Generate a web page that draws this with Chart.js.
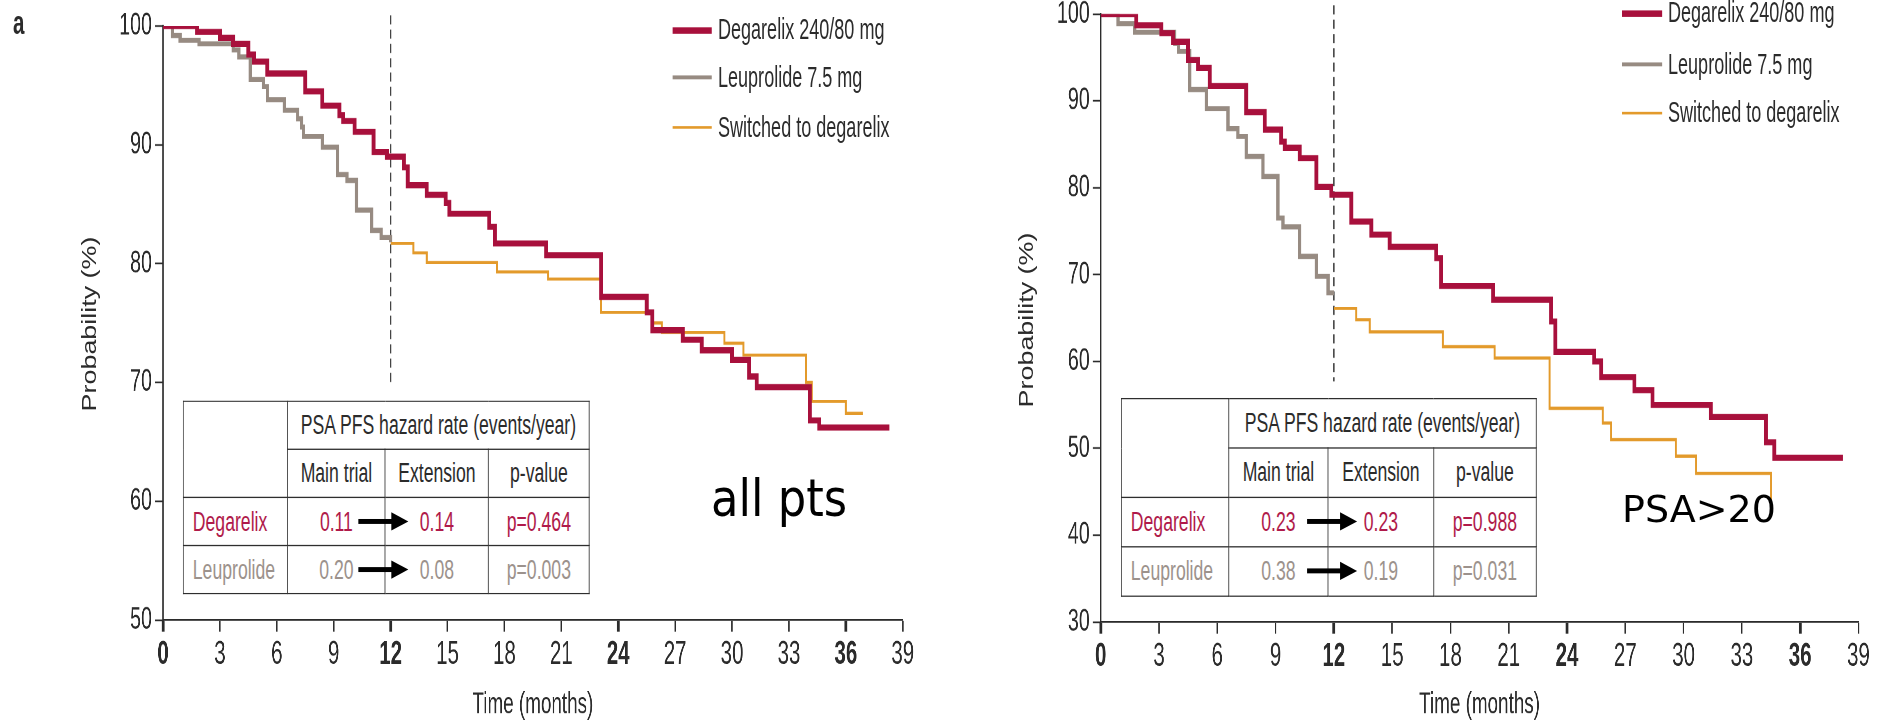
<!DOCTYPE html>
<html>
<head>
<meta charset="utf-8">
<title>PSA PFS - degarelix vs leuprolide</title>
<script src="https://cdn.jsdelivr.net/npm/chart.js@4.4.1/dist/chart.umd.min.js"></script>
<style>
  html, body { margin: 0; padding: 0; background: #fff; }
  body { width: 1880px; height: 723px; overflow: hidden; position: relative;
         font-family: 'Liberation Sans', Arial, sans-serif; color: #2b2b2b; }
  /* figure is drawn at normal proportions then squeezed/stretched like the scanned original */
  #stage { position: absolute; left: 0; top: 0; transform-origin: 0 0; }
  .panel { position: absolute; top: 0; }
  .panel canvas { position: absolute; left: 0; top: 0; }
  .legrow { position: absolute; height: 24px; line-height: 24px; font-size: 22px; white-space: nowrap; }
  .legrow .sw { position: absolute; left: 0; }
  .legrow .tx { position: absolute; top: 0; }
  .tbl { position: absolute; background: #fff; }
  .tbl table { border-collapse: collapse; table-layout: fixed; font-size: 21.5px; background: #fff; }
  .tbl td { border: 1.7px solid #2e2e2e; text-align: center; padding: 0; white-space: nowrap; }
  .tbl td.lab { text-align: left; }
  .tbl svg { position: absolute; overflow: visible; }
  .note { position: absolute; font-family: 'DejaVu Sans', sans-serif; line-height: 1; color: #000;
          white-space: nowrap; transform-origin: 0 0; }
  .ytitle { position: absolute; width: 200px; height: 26px; line-height: 26px; text-align: center;
            font-size: 21px; color: #2b2b2b; white-space: nowrap; transform: rotate(-90deg) scaleX(1.28); }
  #lblA { position: absolute; font-size: 25px; line-height: 1; font-weight: bold; }
</style>
</head>
<body>
<div id="stage">
  <div class="panel" id="pA"><canvas id="chartA"></canvas></div>
  <div class="panel" id="pB"><canvas id="chartB"></canvas></div>
  <div id="lblA">a</div>
</div>
<div class="ytitle" style="left:-11px; top:311px">Probability (%)</div>
<div class="ytitle" style="left:926px; top:307px">Probability (%)</div>
<div class="note" style="left:711px; top:473px; font-size:51px; transform:scaleX(0.88)">all pts</div>
<div class="note" style="left:1622px; top:490px; font-size:38px">PSA&gt;20</div>
<script>
"use strict";

// ---- data ----
var switchMonth = 12;
var boldMonths = [0, 12, 24, 36];
var seriesNames = ['Degarelix 240/80 mg', 'Leuprolide 7.5 mg', 'Switched to degarelix'];

// panel a: all patients
var degA_t = [0, 1.8, 3.0, 3.7, 4.5, 4.8, 5.5, 7.5, 8.4, 9.3, 9.5, 10.1, 11.1, 11.8, 12.7, 12.9, 13.9, 14.9, 15.1, 17.2, 17.5, 20.2, 23.1, 25.5, 25.8, 27.4, 28.4, 30.0, 30.9, 31.3, 34.1, 34.6, 38.3];
var degA_v = [100, 99.5, 99.0, 98.5, 97.6, 97.0, 96.0, 94.5, 93.3, 92.5, 92.0, 91.1, 89.4, 89.0, 88.1, 86.6, 85.8, 85.1, 84.2, 83.1, 81.7, 80.7, 77.2, 75.9, 74.4, 73.6, 72.7, 71.9, 70.5, 69.6, 66.8, 66.2, 66.2];
var leuA_t = [0, 0.5, 0.9, 1.9, 3.7, 4.0, 4.6, 5.3, 5.5, 6.4, 7.1, 7.3, 7.4, 8.4, 9.2, 9.7, 10.2, 11.0, 11.5, 12.0];
var leuA_v = [100, 99.2, 98.8, 98.5, 98.0, 97.4, 95.5, 94.9, 93.8, 92.9, 92.2, 91.5, 90.7, 89.8, 87.5, 87.0, 84.5, 82.8, 82.2, 81.8];
var swA_t = [12.0, 13.2, 13.9, 17.6, 20.3, 23.1, 25.8, 26.3, 29.6, 30.6, 33.9, 34.2, 36.0, 36.9];
var swA_v = [81.7, 80.9, 80.1, 79.3, 78.7, 75.9, 75.0, 74.2, 73.3, 72.3, 70.0, 68.4, 67.4, 67.4];
var cutA = [100.9, 69.8];

// panel b: PSA > 20
var degB_t = [0, 1.83, 3.12, 3.72, 4.49, 5.01, 5.61, 7.49, 8.44, 9.29, 9.47, 10.24, 11.1, 11.87, 12.9, 13.93, 14.87, 17.27, 17.52, 20.2, 23.18, 23.4, 25.4, 25.76, 27.47, 28.4, 31.4, 34.24, 34.67, 38.2];
var degB_v = [100, 98.7, 97.8, 96.8, 94.7, 93.8, 91.7, 88.7, 86.7, 85.3, 84.6, 83.4, 80.1, 79.2, 76.1, 74.6, 73.2, 71.9, 68.7, 67.1, 64.6, 61.1, 60.0, 58.2, 56.7, 55.0, 53.6, 50.7, 48.9, 48.9];
var leuB_t = [0, 0.89, 1.75, 3.81, 4.0, 4.58, 5.44, 6.55, 7.06, 7.49, 8.35, 9.12, 9.38, 10.24, 11.1, 11.7, 12.0];
var leuB_v = [100, 98.9, 97.9, 96.6, 95.7, 91.3, 89.1, 86.8, 85.9, 83.6, 81.3, 76.5, 75.5, 72.1, 69.8, 67.9, 67.9];
var swB_t = [12.0, 13.15, 13.84, 17.61, 20.27, 23.1, 25.84, 26.27, 29.6, 30.64, 34.5, 34.6];
var swB_v = [66.1, 64.8, 63.4, 61.7, 60.4, 54.6, 52.9, 51.0, 49.1, 47.1, 43.1, 43.1];
var cutB = [101.0, 57.7];

// hazard rate tables
var tblHeader = 'PSA PFS hazard rate (events/year)';
var tblCols = ['Main trial', 'Extension', 'p-value'];
var tblA = [['Degarelix', '0.11', '0.14', 'p=0.464'], ['Leuprolide', '0.20', '0.08', 'p=0.003']];
var tblB = [['Degarelix', '0.23', '0.23', 'p=0.988'], ['Leuprolide', '0.38', '0.19', 'p=0.031']];

// ---- styling ----
var RED = '#a8103c', GREY = '#978b82', ORANGE = '#e39a2b', INK = '#2b2b2b';
var rowColors = ['#b01a4a', '#9c928c'];
Chart.defaults.font.family = "'Liberation Sans', Arial, sans-serif";
Chart.defaults.color = INK;

// page px -> stage px (stage is scaled by SX, SY)
var SX = 0.82, SY = 1.3004;
function X(v) { return v / SX; }
function Y(v) { return v / SY; }

var stage = document.getElementById('stage');
stage.style.width = X(1880) + 'px';
stage.style.height = Y(723) + 'px';
stage.style.transform = 'scale(' + SX + ',' + SY + ')';
var lbl = document.getElementById('lblA');
lbl.style.left = X(13) + 'px';
lbl.style.top = Y(7) + 'px';

function pts(t, v) {
  return t.map(function(x, i) { return {x: x, y: v[i]}; });
}
function isBold(c) {
  return c && c.tick && boldMonths.indexOf(c.tick.value) >= 0;
}
function stepSet(data, color, w) {
  return { data: data, borderColor: color, borderWidth: w, stepped: 'before', pointRadius: 0,
           fill: false, borderJoinStyle: 'miter', borderCapStyle: 'butt' };
}

function makeChart(panelId, canvasId, cfg) {
  var panel = document.getElementById(panelId);
  var W = Math.round(X(940)), H = Math.round(Y(723));
  panel.style.left = X(cfg.left) + 'px';
  panel.style.width = W + 'px';
  panel.style.height = H + 'px';
  var cv = document.getElementById(canvasId);
  cv.width = W;
  cv.height = H;
  var ctx = cv.getContext('2d');
  return new Chart(ctx, {
    type: 'line',
    data: {
      datasets: [
        stepSet(pts(cfg.deg[0], cfg.deg[1]), RED, 4.7),
        stepSet(pts(cfg.sw[0], cfg.sw[1]), ORANGE, 2.4),
        stepSet(pts(cfg.leu[0], cfg.leu[1]), GREY, 3.9),
        { data: [{x: switchMonth, y: cfg.cut[0]}, {x: switchMonth, y: cfg.cut[1]}],
          borderColor: '#444', borderWidth: 1.7, borderDash: [7, 4], pointRadius: 0, clip: false }
      ]
    },
    options: {
      responsive: false,
      animation: false,
      devicePixelRatio: 2,
      layout: { padding: { left: 0, right: X(940 - cfg.plotRight), top: Y(cfg.plotTop), bottom: 0 } },
      plugins: { legend: { display: false }, tooltip: { enabled: false } },
      scales: {
        x: {
          type: 'linear', min: 0, max: 39,
          afterFit: function(s) { s.height = H - Y(cfg.plotBottom); s.paddingLeft = 0; s.paddingRight = 0; },
          border: { display: true, color: INK, width: 1.4 },
          grid: { drawOnChartArea: false, drawTicks: true, tickLength: 9, tickColor: INK,
                  tickWidth: function(c) { return isBold(c) ? 3.4 : 1.8; } },
          ticks: { stepSize: 3, autoSkip: false, maxRotation: 0, padding: 3, color: INK,
                   font: function(c) { return { size: 25, weight: isBold(c) ? 'bold' : 'normal' }; } },
          title: { display: true, text: 'Time (months)', color: INK, font: { size: 23 }, padding: { top: 0, bottom: 0 } }
        },
        y: {
          type: 'linear', min: cfg.yMin, max: 100,
          afterFit: function(s) { s.width = X(cfg.plotLeft); s.paddingTop = 0; s.paddingBottom = 0; },
          border: { display: true, color: INK, width: 1.7 },
          grid: { drawOnChartArea: false, drawTicks: true, tickLength: X(8), tickColor: INK, tickWidth: 1.3 },
          ticks: { stepSize: 10, padding: X(3), color: INK, font: { size: 24 } },
          // y title is an html label (drawn outside the squeezed stage)
          title: { display: false }
        }
      }
    }
  });
}

// plot boxes in page px, relative to each panel's left edge
makeChart('pA', 'chartA', { left: 0, deg: [degA_t, degA_v], leu: [leuA_t, leuA_v], sw: [swA_t, swA_v], cut: cutA,
  yMin: 50, plotLeft: 163, plotRight: 903, plotTop: 26, plotBottom: 620 });
makeChart('pB', 'chartB', { left: 940, deg: [degB_t, degB_v], leu: [leuB_t, leuB_v], sw: [swB_t, swB_v], cut: cutB,
  yMin: 30, plotLeft: 161, plotRight: 919, plotTop: 14, plotBottom: 622 });

// ---- legends ----
function addLegend(left, tops) {
  var colors = [RED, GREY, ORANGE], thick = [5, 3, 2.3];
  seriesNames.forEach(function(name, i) {
    var row = document.createElement('div');
    row.className = 'legrow';
    row.style.left = X(left) + 'px';
    row.style.top = (Y(tops[i]) - 12) + 'px';
    row.innerHTML = '<span class="sw" style="background:' + colors[i] + ';width:' + X(40) + 'px;height:' + thick[i] +
      'px;top:' + (12 - thick[i] / 2) + 'px"></span><span class="tx" style="left:' + X(46) + 'px">' + name + '</span>';
    stage.appendChild(row);
  });
}
addLegend(672, [30, 78, 127]);
addLegend(1622, [13, 65, 113]);

// ---- hazard tables ----
function arrowSvg(x, y) {
  var w = X(50);
  return '<svg width="' + w + '" height="14" style="left:' + x + 'px;top:' + (y - 7) + 'px">' +
    '<rect x="0" y="5.1" width="' + (w - X(15)) + '" height="3.8" fill="#000"/>' +
    '<polygon points="' + (w - X(17)) + ',0 ' + w + ',7 ' + (w - X(17)) + ',14" fill="#000"/></svg>';
}
function addTable(left, top, cols, rows, body, arrowX) {
  var wrap = document.createElement('div');
  wrap.className = 'tbl';
  wrap.style.left = X(left) + 'px';
  wrap.style.top = Y(top) + 'px';
  var total = cols.reduce(function(a, b) { return a + b; }, 0);
  var h = '<table style="width:' + X(total) + 'px"><colgroup>';
  cols.forEach(function(w) { h += '<col style="width:' + X(w) + 'px">'; });
  h += '</colgroup>';
  h += '<tr style="height:' + Y(rows[0]) + 'px"><td rowspan="2"></td><td colspan="3">' + tblHeader + '</td></tr>';
  h += '<tr style="height:' + Y(rows[1]) + 'px">';
  tblCols.forEach(function(c) { h += '<td>' + c + '</td>'; });
  h += '</tr>';
  body.forEach(function(r, i) {
    h += '<tr style="height:' + Y(rows[i + 2]) + 'px;color:' + rowColors[i] + '">';
    h += '<td class="lab" style="padding-left:' + X(9) + 'px">' + r[0] + '</td><td>' + r[1] + '</td><td>' + r[2] + '</td><td>' + r[3] + '</td></tr>';
  });
  h += '</table>';
  var y = rows[0] + rows[1];
  body.forEach(function(r, i) {
    h += arrowSvg(X(arrowX), Y(y + rows[i + 2] / 2));
    y += rows[i + 2];
  });
  wrap.innerHTML = h;
  stage.appendChild(wrap);
}
addTable(183, 401, [104, 98, 103, 101], [48, 48, 48, 48], tblA, 175);
addTable(1121, 398, [107, 100, 105, 103], [50, 49, 49, 49], tblB, 186);
</script>
</body>
</html>
